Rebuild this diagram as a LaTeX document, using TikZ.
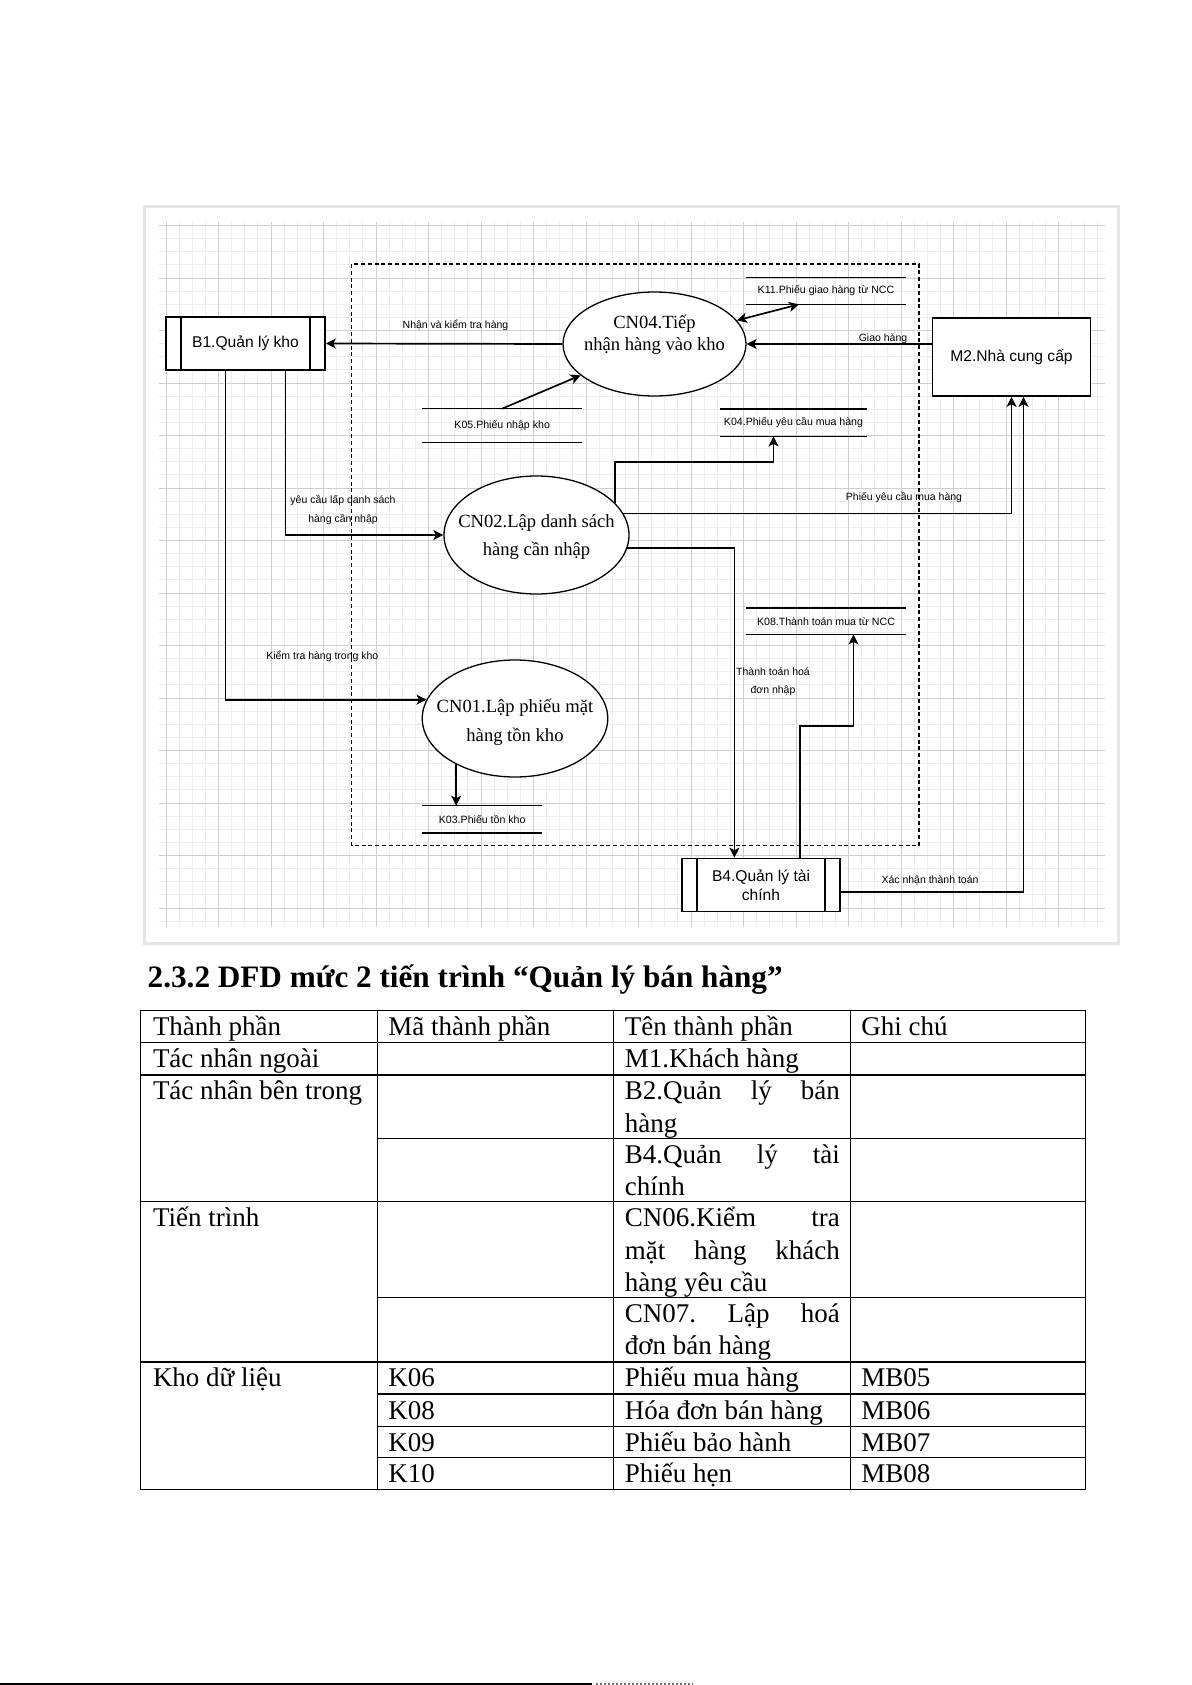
\documentclass[tikz,border=0pt]{standalone}
\usepackage{fontspec}
\setmainfont{Liberation Serif}
\setsansfont{Liberation Sans}
\usetikzlibrary{arrows.meta, shapes.geometric, calc}
\tikzset{
  gridminor/.style={draw=black!7, line width=0.5pt},
  gridmajor/.style={draw=black!19, line width=0.5pt},
  entity/.style={
    draw=black,
    line width=0.85pt,
    fill=white,
    minimum width=79.5pt,
    minimum height=26.5pt,
    inner sep=1pt,
    align=center,
    font=\fontsize{7.8pt}{9.6pt}\selectfont\sffamily
  },
  process/.style={ellipse, draw=black, line width=0.65pt, fill=white, inner sep=0pt},
  proctext/.style={align=center, inner sep=0pt},
  store/.style={inner sep=0pt, font=\fontsize{5.3pt}{6pt}\selectfont\sffamily},
  storeline/.style={line width=0.75pt},
  flowlabel/.style={inner sep=0pt, align=center, font=\fontsize{5.25pt}{9.2pt}\selectfont\sffamily},
  arrow/.style={-{Stealth[length=5pt, width=5pt, inset=1.3pt]}, line width=0.85pt},
  dbarrow/.style={{Stealth[length=5pt, width=5pt, inset=1.3pt]}-{Stealth[length=5pt, width=5pt, inset=1.3pt]}, line width=0.85pt},
  dashbox/.style={draw=black, line width=0.6pt, dash pattern=on 2pt off 1.4pt},
  cell/.style={inner sep=0pt, anchor=base west, font=\fontsize{13.5pt}{16pt}\selectfont\frenchspacing},
  rule/.style={line width=0.65pt, line cap=rect}
}

\begin{document}
\begin{tikzpicture}[x=0.5pt, y=-0.5pt]
  \useasboundingbox (0,0) rectangle (1191,1685);

  % screenshot frame and grid
  \fill[black!10] (143,205.5) rectangle (1120,945);
  \fill[white] (146,208) rectangle (1117,942);
  \foreach \k in {0,...,71} \draw[gridminor] ({166+13.125*\k},222) -- ({166+13.125*\k},927);
  \foreach \k in {-4,...,49} \draw[gridminor] (159,{278+13.125*\k}) -- (1105,{278+13.125*\k});
  \foreach \k in {0,...,17} \draw[gridmajor] ({166+52.5*\k},222) -- ({166+52.5*\k},927);
  \foreach \k in {-1,...,12} \draw[gridmajor] (159,{278+52.5*\k}) -- (1105,{278+52.5*\k});

  % system boundary
  \draw[dashbox] (351.7,264) rectangle (919,845.7);

  % entities
  \node[entity] (b1) at (245.5,343.5) {B1.Quản lý kho};
  \node[entity, minimum width=79pt, minimum height=39pt] (m2) at (1011.5,357) {M2.Nhà cung cấp};
  \node[entity, minimum width=79pt] (b4) at (761,885) {B4.Quản lý tài\\chính};
  \foreach \n in {b1,b4} {
    \draw[line width=0.85pt] ([xshift=8pt]\n.north west) -- ([xshift=8pt]\n.south west);
    \draw[line width=0.85pt] ([xshift=-8pt]\n.north east) -- ([xshift=-8pt]\n.south east);
  }

  % processes
  \node[process, minimum width=91.5pt, minimum height=52pt] (cn04) at (654.5,344) {};
  \node[process, minimum width=92.5pt, minimum height=59pt] (cn02) at (536.5,535) {};
  \node[process, minimum width=92.75pt, minimum height=58.5pt] (cn01) at (515,718.5) {};
  \node[proctext, font=\fontsize{9.3pt}{11.25pt}\selectfont] (cn04t) at (654.5,335) {CN04.Tiếp\\nhận hàng vào kho};
  \node[proctext, font=\fontsize{9.3pt}{14pt}\selectfont] (cn02t) at (536.5,537) {CN02.Lập danh sách\\hàng cần nhập};
  \node[proctext, font=\fontsize{9.3pt}{14.5pt}\selectfont] (cn01t) at (515,722) {CN01.Lập phiếu mặt\\hàng tồn kho};

  % data stores
  \node[store, minimum width=80pt, minimum height=13.15pt] (k11) at (826,290.8) {K11.Phiếu giao hàng từ NCC};
  \node[store, minimum width=79.5pt, minimum height=16.5pt] (k05) at (502.2,425.5) {K05.Phiếu nhập kho};
  \node[store, minimum width=72.85pt, minimum height=13.35pt] (k04) at (793.5,422.7) {K04.Phiếu yêu cầu mua hàng};
  \node[store, minimum width=80pt, minimum height=12.85pt] (k08) at (826,621.2) {K08.Thành toán mua từ NCC};
  \node[store, minimum width=59.7pt, minimum height=13.35pt] (k03) at (482.2,819.4) {K03.Phiếu tồn kho};
  \foreach \s in {k11,k05,k04,k08,k03} {
    \draw[storeline] (\s.north west) -- (\s.north east);
    \draw[storeline] (\s.south west) -- (\s.south east);
  }

  % flows
  \draw[arrow] (cn04.west) -- (b1.east);
  \draw[arrow] (cn04.east -| m2.west) -- (cn04.east);
  \draw[dbarrow] (cn04.16) -- ([xshift=-13.5pt]k11.south);
  \draw[arrow] (k05.north) -- (cn04);
  \draw[arrow] ([xshift=20pt]b1.south) |- (cn02.west);
  \draw[arrow] ([xshift=-10pt]b1.south) |- (cn01.168);
  \draw[arrow] (cn02.22) -- ++(0,-41) -| ([xshift=-10pt]k04.south);
  \draw[arrow] (cn02.14) -| (m2.south);
  \draw[arrow] (cn02.-8) -| ([xshift=-13.3pt]b4.north);
  \draw[arrow] ([xshift=19.5pt]b4.north) -- ++(0,-131.5) -| ([xshift=13.75pt]k08.south);
  \draw[arrow] ([yshift=-3.6pt]b4.east) -| ([xshift=6pt]m2.south);
  \draw[arrow] (cn01.218) -- (cn01.218 |- k03.north);

  % flow labels
  \node[flowlabel] (lnhan) at (455.5,325) {Nhận và kiểm tra hàng};
  \node[flowlabel] (lgiao) at (883,339) {Giao hàng};
  \node[flowlabel] (lyeucau) at (343,510) {yêu cầu lấp danh sách\\hàng cần nhập};
  \node[flowlabel] (lkiemtra) at (322.3,656) {Kiểm tra hàng trong kho};
  \node[flowlabel] (lphieu) at (904,497.7) {Phiếu yêu cầu mua hàng};
  \node[flowlabel] (lthanhtoan) at (773,682) {Thành toán hoá\\đơn nhập};
  \node[flowlabel] (lxacnhan) at (930,880.7) {Xác nhận thành toán};

  % heading
  \node[inner sep=0pt, anchor=base west, font=\fontsize{15.6pt}{18pt}\selectfont\bfseries] (title) at (147.3,987.5) {2.3.2 DFD mức 2 tiến trình “Quản lý bán hàng”};

  % table
  \foreach \y in {1010.4,1042.7,1074.9,1201.8,1361.9,1489.8} \draw[rule] (140.8,\y) -- (1085.7,\y);
  \foreach \y in {1138.3,1297.4,1394.1,1426.4,1457.6} \draw[rule] (377.3,\y) -- (1085.7,\y);
  \foreach \x in {140.8,377.3,613.8,850.3,1085.7} \draw[rule] (\x,1010.4) -- (\x,1489.8);

  \node[cell] (t01) at (152.6,1035.4) {Thành phần};
  \node[cell] (t02) at (388,1035.4) {Mã thành phần};
  \node[cell] (t03) at (624.5,1035.4) {Tên thành phần};
  \node[cell] (t04) at (861,1035.4) {Ghi chú};
  \node[cell] (t11) at (152.6,1067.7) {Tác nhân ngoài};
  \node[cell] (t13) at (624.5,1067.7) {M1.Khách hàng};
  \node[cell] (t21) at (152.6,1099.9) {Tác nhân bên trong};
  \node[cell] (t23a) at (624.5,1099.9) {\makebox[107.5pt][s]{B2.Quản lý bán}};
  \node[cell] (t23b) at (624.5,1132.1) {hàng};
  \node[cell] (t33a) at (624.5,1163.3) {\makebox[107.5pt][s]{B4.Quản lý tài}};
  \node[cell] (t33b) at (624.5,1195.5) {chính};
  \node[cell] (t41) at (152.6,1226.8) {Tiến trình};
  \node[cell] (t43a) at (624.5,1226.8) {\makebox[107.5pt][s]{CN06.Kiểm tra}};
  \node[cell] (t43b) at (624.5,1259) {\makebox[107.5pt][s]{mặt hàng khách}};
  \node[cell] (t43c) at (624.5,1291.2) {hàng yêu cầu};
  \node[cell] (t53a) at (624.5,1322.4) {\makebox[107.5pt][s]{CN07. Lập hoá}};
  \node[cell] (t53b) at (624.5,1354.6) {đơn bán hàng};
  \node[cell] (t61) at (152.6,1386.9) {Kho dữ liệu};
  \node[cell] (t62) at (388,1386.9) {K06};
  \node[cell] (t63) at (624.5,1386.9) {Phiếu mua hàng};
  \node[cell] (t64) at (861,1386.9) {MB05};
  \node[cell] (t72) at (388,1419.1) {K08};
  \node[cell] (t73) at (624.5,1419.1) {Hóa đơn bán hàng};
  \node[cell] (t74) at (861,1419.1) {MB06};
  \node[cell] (t82) at (388,1451.4) {K09};
  \node[cell] (t83) at (624.5,1451.4) {Phiếu bảo hành};
  \node[cell] (t84) at (861,1451.4) {MB07};
  \node[cell] (t92) at (388,1482.6) {K10};
  \node[cell] (t93) at (624.5,1482.6) {Phiếu hẹn};
  \node[cell] (t94) at (861,1482.6) {MB08};

  % page edge
  \fill[black] (0,1683) rectangle (591.5,1685);
  \draw[black!55, line width=0.6pt, dash pattern=on 1pt off 1pt] (596,1684) -- (693,1684);
\end{tikzpicture}
\end{document}
